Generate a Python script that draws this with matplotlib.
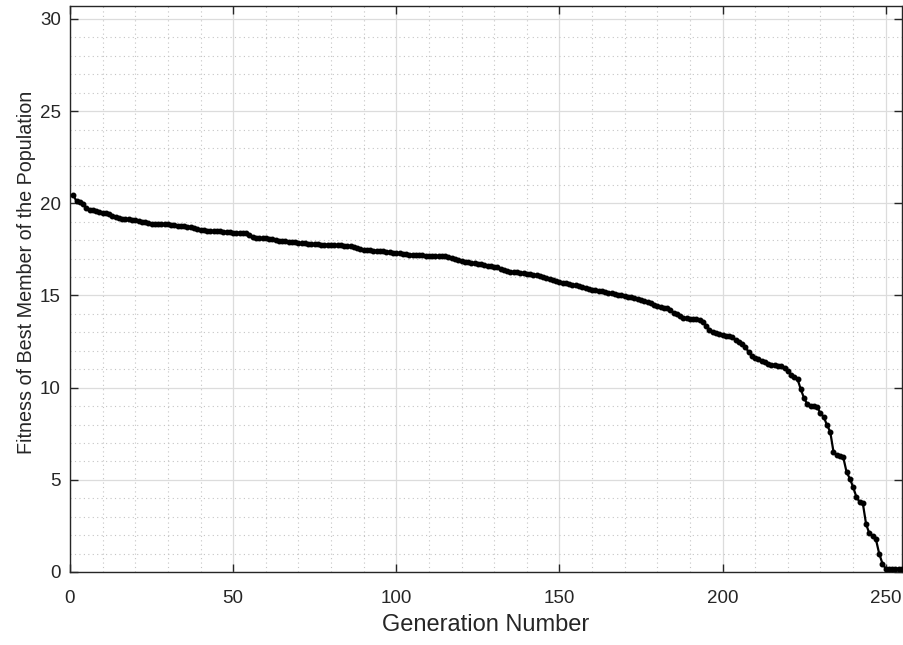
import numpy as np
import matplotlib
matplotlib.use("Agg")
import matplotlib.pyplot as plt
from matplotlib.ticker import MultipleLocator

fitness = [
    20.45, 20.10, 20.05, 19.95, 19.75, 19.65, 19.62, 19.57, 19.52, 19.48,
    19.46, 19.40, 19.32, 19.24, 19.20, 19.17, 19.15, 19.12, 19.10, 19.08,
    19.06, 19.01, 18.97, 18.93, 18.90, 18.89, 18.88, 18.88, 18.87, 18.85,
    18.83, 18.81, 18.79, 18.77, 18.75, 18.73, 18.71, 18.66, 18.60, 18.56,
    18.54, 18.52, 18.51, 18.50, 18.48, 18.47, 18.46, 18.44, 18.42, 18.41,
    18.40, 18.40, 18.39, 18.38, 18.30, 18.17, 18.14, 18.12, 18.11, 18.10,
    18.08, 18.07, 18.03, 17.97, 17.95, 17.93, 17.92, 17.90, 17.88, 17.85,
    17.83, 17.82, 17.80, 17.79, 17.78, 17.77, 17.76, 17.76, 17.75, 17.74,
    17.73, 17.72, 17.71, 17.70, 17.69, 17.66, 17.62, 17.57, 17.52, 17.48,
    17.46, 17.44, 17.43, 17.42, 17.40, 17.39, 17.38, 17.35, 17.32, 17.30,
    17.28, 17.26, 17.24, 17.22, 17.21, 17.20, 17.18, 17.17, 17.16, 17.15,
    17.14, 17.13, 17.13, 17.12, 17.12, 17.10, 17.05, 16.98, 16.92, 16.88,
    16.84, 16.80, 16.77, 16.74, 16.71, 16.68, 16.65, 16.62, 16.58, 16.55,
    16.52, 16.45, 16.38, 16.32, 16.29, 16.27, 16.25, 16.23, 16.22, 16.19,
    16.15, 16.12, 16.09, 16.05, 16.01, 15.96, 15.91, 15.85, 15.77, 15.71,
    15.68, 15.65, 15.61, 15.58, 15.54, 15.50, 15.45, 15.40, 15.36, 15.32,
    15.28, 15.25, 15.22, 15.19, 15.15, 15.12, 15.08, 15.04, 15.00, 14.96,
    14.92, 14.89, 14.86, 14.82, 14.78, 14.72, 14.64, 14.58, 14.50, 14.44,
    14.38, 14.33, 14.30, 14.20, 14.05, 13.98, 13.91, 13.80, 13.75, 13.74,
    13.73, 13.70, 13.65, 13.55, 13.35, 13.15, 13.02, 12.96, 12.90, 12.86,
    12.82, 12.78, 12.74, 12.58, 12.45, 12.35, 12.18, 11.95, 11.70, 11.63,
    11.58, 11.45, 11.38, 11.30, 11.25, 11.22, 11.18, 11.15, 11.05, 10.90,
    10.70, 10.55, 10.45, 9.90, 9.42, 9.10, 9.02, 8.99, 8.96, 8.60,
    8.42, 7.97, 7.61, 6.52, 6.34, 6.28, 6.22, 5.43, 5.07, 4.62,
    4.08, 3.80, 3.72, 2.59, 2.09, 1.96, 1.78, 1.00, 0.46, 0.18,
    0.18, 0.18, 0.18, 0.18, 0.18,
]
generations = list(range(1, len(fitness) + 1))

x_ticks = [0, 50, 100, 150, 200, 250]
y_ticks = [0, 5, 10, 15, 20, 25, 30]
x_label = "Generation Number"
y_label = "Fitness of Best Member of the Population"

plt.rcParams['font.family'] = ['Liberation Sans', 'DejaVu Sans']
fig = plt.figure(figsize=(9.04, 6.45), dpi=100)
ax = fig.add_axes([70/904, 73/645, 832/904, 566/645])

ax.plot(generations, fitness, color='black', linewidth=1.6, marker='.',
        markersize=6.5, zorder=3)

ax.set_xlim(0, 255)
ax.set_ylim(0, 30.7)
ax.set_xticks(x_ticks)
ax.set_yticks(y_ticks)
ax.xaxis.set_minor_locator(MultipleLocator(10))
ax.yaxis.set_minor_locator(MultipleLocator(1))

ax.grid(which='major', color='#dcdcdc', linewidth=0.9, linestyle='-')
ax.grid(which='minor', color='#c4c4c4', linewidth=0.8, linestyle=(0, (1, 3)))
ax.set_axisbelow(True)

txt_col = '#262626'
for s in ax.spines.values():
    s.set_color(txt_col)
    s.set_linewidth(1.0)
ax.tick_params(which='major', direction='in', length=6, width=1.0,
               top=True, right=True, colors=txt_col, labelsize=13.5)
ax.tick_params(axis='x', which='major', pad=13)
ax.tick_params(axis='y', which='major', pad=6.5)
ax.tick_params(which='minor', length=0, top=True, right=True)

ax.set_xlabel(x_label, fontsize=17, color=txt_col)
ax.set_ylabel(y_label, fontsize=14.2, color=txt_col)
ax.xaxis.set_label_coords(0.5, (572 - 614) / 566)
ax.yaxis.set_label_coords((36 - 70) / 832, 0.53)

fig.savefig("out.png", dpi=100)
